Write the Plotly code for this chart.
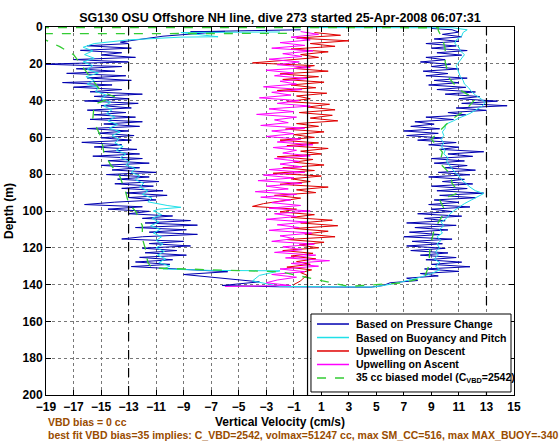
import plotly.graph_objects as go

TITLE = "SG130 OSU Offshore NH line, dive 273 started 25-Apr-2008 06:07:31"
X_TICKS = [-19, -17, -15, -13, -11, -9, -7, -5, -3, -1, 1, 3, 5, 7, 9, 11, 13, 15]
Y_TICKS = [0, 20, 40, 60, 80, 100, 120, 140, 160, 180, 200]
DASHED_LIMITS = [-13, 13]
ZERO_LINE = [0]

# ---- Based on Pressure Change (blue) ----
PRES_DOWN_DEPTH = [1.5, 2.6, 2.4, 5.0, 8.2,
    9.0, 10.2, 11.5, 12.7, 14.0, 15.2, 16.5, 17.7, 19.0, 20.2,
    21.5, 22.7, 24.0, 25.2, 26.5, 27.7, 29.0, 30.2, 31.5, 32.7,
    34.0, 35.2, 36.5, 37.7, 39.0, 40.2, 41.5, 42.7, 44.0, 45.2,
    46.5, 47.7, 49.0, 50.2, 51.5, 52.7, 54.0, 55.2, 56.5, 57.7,
    59.0, 60.2, 61.5, 62.7, 64.0, 65.2, 66.5, 67.7, 69.0, 70.2,
    71.5, 72.7, 74.0, 75.2, 76.5, 77.7, 79.0, 80.2, 81.5, 82.7,
    84.0, 85.2, 86.5, 87.7, 89.0, 90.2, 91.5, 92.7, 94.0, 95.2,
    96.5, 97.7, 99.0, 100.2, 101.5, 102.7, 104.0, 105.2, 106.5, 107.7,
    109.0, 110.2, 111.5, 112.7, 114.0, 115.2, 116.5, 117.7, 119.0, 120.2,
    121.5, 122.7, 124.0, 125.2, 126.5, 127.7, 129.0, 130.2,
    131.5, 133.0, 134.5, 136.5, 138.5, 140.5, 141.2]
PRES_DOWN_W = [-0.5, -8.5, -6.0, -10.5, -13.6,
    -13.0, -16.0, -12.8, -16.5, -13.5, -15.0, -12.5, -17.0, -13.0, -19.2,
    -13.5, -16.8, -14.0, -17.5, -13.2, -16.0, -12.8, -17.8, -14.2, -17.0,
    -13.5, -15.8, -12.0, -15.5, -13.0, -16.2, -12.3, -15.0, -12.8, -16.0,
    -13.2, -15.5, -12.5, -15.8, -12.0, -14.8, -12.2, -16.0, -13.0, -15.2,
    -12.6, -15.0, -12.8, -16.4, -13.5, -15.5, -12.4, -14.8, -12.2, -15.6,
    -12.0, -14.5, -11.5, -15.0, -12.2, -14.2, -11.0, -14.6, -11.5, -13.8,
    -10.8, -14.0, -11.2, -13.5, -10.5, -13.2, -10.2, -13.0, -11.0, -14.0,
    -16.2, -12.0, -14.5, -11.5, -13.0, -9.8, -12.0, -8.5, -11.8, -8.0,
    -12.5, -8.8, -11.5, -8.0, -12.0, -13.5, -9.0, -11.5, -8.5, -12.0,
    -9.5, -11.8, -8.8, -12.2, -9.8, -12.5, -10.0, -12.8,
    -9.5, -5.8, -9.0, -6.5, -3.5, -6.2, -2.0]

PRES_UP_DEPTH = [141.4, 140.5,
    139.0, 137.8, 136.5, 135.3, 134.0, 132.8, 131.5, 130.3, 129.0, 127.8,
    126.5, 125.3, 124.0, 122.8, 121.5, 120.3, 119.0, 117.8, 116.5, 115.3,
    114.0, 112.8, 111.5, 110.3, 109.0, 107.8, 106.5, 105.3, 104.0, 102.8,
    101.5, 100.3, 99.0, 97.8, 96.5, 95.3, 94.0, 92.8, 91.5, 90.3,
    89.0, 87.8, 86.5, 85.3, 84.0, 82.8, 81.5, 80.3, 79.0, 77.8,
    76.5, 75.3, 74.0, 72.8, 71.5, 70.3, 69.0, 67.8, 66.5, 65.3,
    64.0, 62.8, 61.5, 60.3, 59.0, 57.8, 56.5, 55.3, 54.0, 52.8,
    51.5, 50.3, 49.0, 47.8, 46.5, 45.3, 44.0, 42.8, 41.5, 40.3,
    39.0, 37.8, 36.5, 35.3, 34.0, 32.8, 31.5, 30.3, 29.0, 27.8,
    26.5, 25.3, 24.0, 22.8, 21.5, 20.3, 19.0, 17.8, 16.5, 15.3,
    14.0, 12.8, 11.5, 10.3, 9.0, 7.8, 6.5, 5.3, 4.0, 2.8,
    1.5, 0.8]
PRES_UP_W = [4.6, 5.5,
    6.0, 8.0, 7.2, 9.5, 8.2, 11.0, 8.5, 11.8, 9.0, 11.2,
    8.6, 10.8, 8.2, 10.2, 7.5, 10.0, 7.2, 9.8, 7.6, 10.5,
    7.0, 9.6, 7.4, 10.2, 7.8, 10.8, 7.2, 10.0, 8.5, 11.2,
    8.0, 10.5, 9.0, 11.8, 8.8, 11.0, 9.2, 12.2, 9.6, 12.8,
    9.4, 11.6, 9.0, 12.0, 9.8, 11.4, 8.8, 11.8, 9.5, 12.2,
    10.0, 11.6, 9.2, 11.4, 9.0, 12.0, 10.2, 12.8, 9.6, 11.0,
    8.8, 10.8, 8.0, 9.8, 7.2, 9.5, 7.0, 9.6, 7.5, 9.2,
    7.8, 10.6, 8.6, 11.5, 10.2, 13.0, 10.8, 14.5, 11.2, 13.8,
    11.0, 12.5, 10.0, 12.2, 9.4, 11.5, 8.8, 11.0, 9.2, 11.6,
    8.6, 10.2, 8.4, 11.0, 9.0, 10.4, 8.2, 10.0, 8.6, 11.2,
    9.4, 11.6, 9.0, 10.8, 8.6, 11.0, 9.2, 11.2, 9.8, 11.0,
    10.5, 9.0]

# ---- Based on Buoyancy and Pitch (cyan) ----
BUOY_DOWN_DEPTH = [2.7, 3.0, 5.3, 5.5, 7.0, 9, 11, 13, 15, 17, 19, 21, 23, 25, 27, 29, 31, 33,
    35, 37, 39, 41, 43, 45, 47, 49, 51, 53, 55, 57, 59, 61, 63, 65, 67, 69, 71, 73,
    75, 77, 79, 81, 83, 85, 87, 89, 91, 93, 95, 97, 98, 99, 100, 102, 104, 106, 108,
    110, 112, 114, 116, 118, 120, 122, 124, 126, 128, 130, 131.5, 132.3, 132.5,
    135, 138, 141]
BUOY_DOWN_W = [-2.0, -9.2, -6.5, -9.2, -13.0, -15.5, -16.3, -15.6, -16.2, -15.5, -16.3,
    -15.6, -16.0, -15.2, -16.1, -15.5, -16.0, -15.2, -15.4, -14.6, -15.0, -14.3,
    -14.8, -14.2, -14.6, -14.0, -14.5, -13.8, -14.4, -13.6, -14.2, -13.7, -14.0,
    -13.4, -13.9, -13.2, -13.6, -12.9, -13.2, -12.5, -12.8, -12.2, -12.5, -11.9,
    -12.2, -11.6, -12.0, -11.3, -11.6, -10.2, -9.2, -10.8, -11.2, -10.6, -11.3,
    -10.8, -11.4, -10.7, -11.2, -10.6, -11.0, -10.5, -11.0, -10.4, -10.9, -10.3,
    -10.8, -10.0, -10.5, -7.0, -2.0, -3.5, -4.0, -2.0]
BUOY_UP_DEPTH = [141.3, 139.5, 136, 134, 132, 130, 128, 126, 124, 122, 120, 118, 116,
    114, 112, 110, 108, 106, 104, 102, 100, 98, 96, 94, 92, 90.5, 89, 87, 85, 83,
    81, 79, 77, 75, 73, 71, 69, 67, 65, 63, 61, 59, 57, 55, 53, 51, 49.5, 47, 45,
    43, 41, 39, 37, 35, 33, 31, 29, 27, 25, 23, 21, 19, 17, 15, 13, 11, 9, 7, 5,
    3, 1.5, 0.4, 0.3]
BUOY_UP_W = [4.8, 6.3, 8.2, 9.0, 9.6, 9.3, 9.6, 9.2, 9.5, 9.3, 9.6, 9.4, 9.7, 9.4,
    9.8, 9.6, 9.9, 9.7, 10.1, 10.3, 10.6, 11.0, 11.4, 11.9, 12.4, 12.8, 12.2,
    11.8, 11.5, 11.2, 11.0, 10.7, 10.5, 10.3, 10.1, 10.2, 9.9, 10.0, 9.7, 9.9,
    9.7, 9.9, 9.8, 10.0, 10.0, 10.6, 11.0, 11.8, 12.3, 12.7, 12.9, 12.6, 12.2,
    11.9, 11.7, 11.4, 11.3, 11.1, 11.0, 10.9, 10.8, 11.0, 11.2, 11.4, 11.1,
    11.0, 10.7, 10.8, 11.2, 11.3, 11.6, 10.5, 0.0]

# ---- Upwelling on Descent (red) ----
UPW_DOWN_DEPTH = [3.0, 4.5, 6.0, 7.5, 9.0, 10.5, 12.0, 13.5, 15.0, 16.5,
    18.0, 19.5, 21.0, 22.5, 24.0, 25.5, 27.0, 28.5, 30.0, 31.5,
    33.0, 34.5, 36.0, 37.5, 39.0, 40.5, 42.0, 43.5, 45.0, 46.5,
    48.0, 49.5, 51.0, 52.5, 54.0, 55.5, 57.0, 58.5, 60.0, 61.5,
    63.0, 64.5, 66.0, 67.5, 69.0, 70.5, 72.0, 73.5, 75.0, 76.5,
    78.0, 79.5, 81.0, 82.5, 84.0, 85.5, 87.0, 88.5, 90.0, 91.5,
    93.0, 94.5, 96.0, 97.5, 99.0, 100.5, 102.0, 103.5, 105.0, 106.5,
    108.0, 109.5, 111.0, 112.5, 114.0, 115.5, 117.0, 118.5, 120.0, 121.5,
    123.0, 124.5, 126.0, 127.5, 129.0, 130.5, 132.0, 133.5, 135.0, 136.5,
    138.0, 140.0]
UPW_DOWN_W = [0.5, 2.4, -0.8, 3.0, 0.2, 2.0, -1.2, 1.5, -0.5, 0.8,
    -1.5, -4.0, 0.5, -1.0, 1.5, -2.0, 0.8, -1.8, 1.2, -1.2,
    0.6, -2.2, 1.4, -0.8, 0.2, -1.5, 1.6, 0.0, 2.0, -0.6,
    1.8, 0.2, 2.2, -0.8, 0.8, -1.6, 1.2, -1.0, 0.5, -2.0,
    0.8, -1.5, 1.5, -0.5, 1.0, -2.2, 0.4, -1.0, 1.2, -1.8,
    0.5, -2.5, 1.0, -1.2, 0.2, -2.0, 1.5, -0.8, 0.6, -2.4,
    -0.5, -1.8, -3.2, -4.0, -0.8, -2.0, 0.5, -1.2, 1.8, -0.5,
    2.2, -1.0, 1.5, -0.2, 2.0, -1.5, 1.2, -0.6, 0.8, -1.8,
    0.4, -1.2, 0.6, -0.8, 0.2, -1.5, 0.3, -0.5, 0.0, -0.3,
    -0.5, -1.0]

# ---- Upwelling on Ascent (magenta) ----
UPW_UP_DEPTH = [2.5, 4.0, 5.5, 7.0, 8.5, 10.0, 11.5, 13.0, 14.5, 16.0,
    17.5, 19.0, 20.5, 22.0, 23.5, 25.0, 26.5, 28.0, 29.5, 31.0,
    32.5, 34.0, 35.5, 37.0, 38.5, 40.0, 41.5, 43.0, 44.5, 46.0,
    47.5, 49.0, 50.5, 52.0, 53.5, 55.0, 56.5, 58.0, 59.5, 61.0,
    62.5, 64.0, 65.5, 67.0, 68.5, 70.0, 71.5, 73.0, 74.5, 76.0,
    77.5, 79.0, 80.5, 82.0, 83.5, 85.0, 86.5, 88.0, 89.5, 91.0,
    92.5, 94.0, 95.5, 97.0, 98.5, 100.0, 101.5, 103.0, 104.5, 106.0,
    107.5, 109.0, 110.5, 112.0, 113.5, 115.0, 116.5, 118.0, 119.5, 121.0,
    122.5, 124.0, 125.5, 127.0, 128.5, 130.0, 131.5, 133.0, 134.5, 136.0,
    137.5, 139.0, 140.5, 141.0]
UPW_UP_W = [-0.5, 0.8, -1.2, 0.2, -2.0, -0.2, -2.6, 0.4, -1.8, -0.4,
    -2.8, -0.6, -2.2, 0.2, -3.0, -1.0, -2.4, 0.0, -2.0, -0.8,
    -3.2, -0.4, -2.6, -1.2, -3.5, -0.6, -2.2, 0.2, -2.8, -1.0,
    -3.7, -0.8, -2.4, -1.4, -3.4, -0.2, -2.6, -1.0, -3.0, -0.5,
    -2.2, 0.4, -2.5, -0.8, -1.8, 0.2, -2.4, -0.6, -2.0, -0.4,
    -2.8, -0.2, -3.2, -1.0, -3.6, -0.4, -3.0, -1.4, -3.8, -0.8,
    -3.4, -1.2, -2.6, -0.5, -2.8, 0.2, -2.4, -0.8, -3.0, 0.0,
    -2.2, -0.6, -2.8, 0.3, -2.0, -1.0, -2.6, 0.5, -1.8, -0.4,
    -2.4, 0.6, -1.6, 1.6, -1.2, 0.8, -2.0, -0.2, -2.6, -0.8,
    -2.2, -3.0, -1.2, -6.0]

# ---- 35 cc biased model (green dashed) ----
MODEL_DEPTH = [3.5, 3.6, 5.4, 10.7, 15, 20, 25, 30, 35, 38, 42, 50, 60, 68, 75, 80,
    90, 96, 100, 108, 115, 120, 128, 131, 132, 133, 141, 139, 136, 130, 120, 110,
    100, 94, 90, 85, 80, 74, 68, 61, 55, 50, 45, 39, 34, 28, 19, 12, 6, 2, 0.4, 0.3]
MODEL_W = [-1.5, -19.5, -19.5, -18.0, -17.0, -16.5, -16.0, -15.5, -15.0, -14.0, -15.5,
    -15.6, -15.0, -14.8, -14.3, -13.7, -13.2, -13.0, -12.5, -12.0, -12.0, -11.8,
    -11.6, -11.3, -7.0, -2.0, 3.0, 7.0, 8.5, 8.8, 8.9, 9.2, 10.0, 9.6, 11.0, 10.5,
    10.4, 9.6, 9.8, 9.0, 9.8, 10.5, 11.5, 12.2, 11.0, 10.3, 10.0, 10.0, 9.8, 9.5,
    9.5, -19.5]

SERIES_NAMES = ["Based on Pressure Change", "Based on Buoyancy and Pitch",
                "Upwelling on Descent", "Upwelling on Ascent",
                "35 cc biased model (C<sub>VBD</sub>=2542)"]
SERIES_COLORS = ["#0000B0", "#20E0E8", "#E00000", "#FF00FF", "#33CC33"]
SERIES_DASH = ["solid", "solid", "solid", "solid", "dash"]

BOLD = dict(family="Liberation Sans, Arial, sans-serif", weight="bold")
BROWN = "rgb(153,76,0)"

series_xy = [
    (PRES_DOWN_W + PRES_UP_W, PRES_DOWN_DEPTH + PRES_UP_DEPTH),
    (BUOY_DOWN_W + BUOY_UP_W, BUOY_DOWN_DEPTH + BUOY_UP_DEPTH),
    (UPW_DOWN_W, UPW_DOWN_DEPTH),
    (UPW_UP_W, UPW_UP_DEPTH),
    (MODEL_W, MODEL_DEPTH),
]

fig = go.Figure()
for (xs, ys), name, col, dash in zip(series_xy, SERIES_NAMES, SERIES_COLORS, SERIES_DASH):
    fig.add_trace(go.Scatter(x=xs, y=ys, mode="lines", name=name, showlegend=False,
                             line=dict(color=col, width=1.3 if dash == "dash" else 1, dash=dash)))

for v in DASHED_LIMITS:
    fig.add_vline(x=v, line=dict(color="black", width=1.2, dash="dash"), layer="above")
for v in ZERO_LINE:
    fig.add_vline(x=v, line=dict(color="black", width=1.2), layer="above")

# legend box drawn in paper coordinates (compact MATLAB-style legend)
LEG_X0, LEG_X1, LEG_Y0, LEG_Y1 = 0.5662, 0.9936, 0.0082, 0.2201
LEG_LINE_X0, LEG_LINE_X1, LEG_TEXT_X = 0.5791, 0.6474, 0.6571
LEG_ROWS = [0.1929, 0.1562, 0.1196, 0.0829, 0.0462]
fig.add_shape(type="rect", xref="paper", yref="paper", x0=LEG_X0, x1=LEG_X1, y0=LEG_Y0, y1=LEG_Y1,
              line=dict(color="black", width=1), fillcolor="white", layer="above")
for yy, name, col, dash in zip(LEG_ROWS, SERIES_NAMES, SERIES_COLORS, SERIES_DASH):
    fig.add_shape(type="line", xref="paper", yref="paper", x0=LEG_LINE_X0, x1=LEG_LINE_X1,
                  y0=yy, y1=yy, line=dict(color=col, width=1.5, dash=dash), layer="above")
    fig.add_annotation(text=name, xref="paper", yref="paper", x=LEG_TEXT_X, y=yy,
                       xanchor="left", yanchor="middle", showarrow=False,
                       font=dict(size=10.5, color="black", **BOLD))

axis_common = dict(showline=True, linecolor="black", linewidth=1, mirror="ticks",
                   ticks="inside", ticklen=5, tickcolor="black", automargin=False,
                   showgrid=True, gridcolor="#777777", gridwidth=1, griddash="dot",
                   zeroline=False, tickfont=dict(size=12, color="black", **BOLD))

fig.update_xaxes(range=[-19, 15], tickvals=X_TICKS,
                 ticktext=[str(t).replace("-", "\u2212") for t in X_TICKS],
                 ticklabelstandoff=1,
                 title=dict(text="Vertical Velocity (cm/s)", font=dict(size=12, color="black", **BOLD), standoff=4),
                 **axis_common)
fig.update_yaxes(range=[200, 0], tickvals=Y_TICKS,
                 title=dict(text="Depth (m)", font=dict(size=12, color="black", **BOLD), standoff=6),
                 **axis_common)

fig.add_annotation(text="VBD bias = 0 cc", xref="paper", yref="paper", x=0.0, y=-0.0734,
                   xanchor="left", yanchor="middle", showarrow=False,
                   font=dict(size=10.5, color=BROWN, **BOLD))
fig.add_annotation(text="best fit VBD bias=35 implies: C_VBD=2542, volmax=51247 cc, max SM_CC=516, max MAX_BUOY=-340",
                   xref="paper", yref="paper", x=0.0, y=-0.110,
                   xanchor="left", yanchor="middle", showarrow=False,
                   font=dict(size=10.5, color=BROWN, **BOLD))

fig.update_layout(
    width=560, height=442,
    margin=dict(l=46, r=46, t=27, b=47, autoexpand=False),
    paper_bgcolor="white", plot_bgcolor="white",
    title=dict(text=TITLE, x=0.5, xanchor="center", y=0.959, yanchor="middle",
               font=dict(size=12.5, color="black", **BOLD)),
    showlegend=False,
)

fig.write_html("out.html", config={"displayModeBar": False},
               post_script="document.body.style.margin='0';")
